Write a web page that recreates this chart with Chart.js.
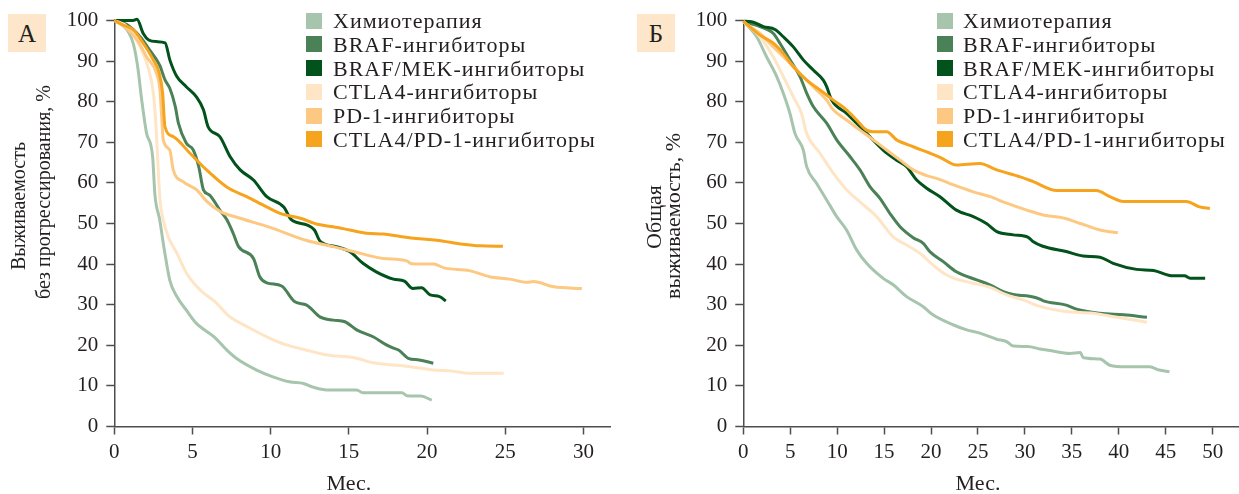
<!DOCTYPE html>
<html>
<head>
<meta charset="utf-8">
<script src="https://cdn.jsdelivr.net/npm/chart.js@4.4.1/dist/chart.umd.min.js"></script>
<style>
  body { margin: 0; background: #fff; width: 1239px; height: 494px; overflow: hidden; position: relative;
         font-family: "Liberation Serif", serif; color: #231f20; }
  .panel { position: absolute; top: 0; height: 494px; }
  .tag { position: absolute; top: 14px; width: 38px; height: 38px; background: #fde6c9;
         font-size: 25px; line-height: 39px; text-align: center; }
  .legend { position: absolute; top: 9px; font-size: 22px; letter-spacing: 1px; line-height: 23.8px; }
  .legend div { position: relative; padding-left: 27px; white-space: nowrap; }
  .legend span { position: absolute; left: 0; top: 3.5px; width: 16px; height: 16px; }
</style>
</head>
<body>
<div class="panel" style="left:0;width:620px"><canvas id="pfs" width="620" height="494"></canvas></div>
<div class="panel" style="left:620px;width:619px"><canvas id="os" width="619" height="494"></canvas></div>
<div class="tag" style="left:8px">А</div>
<div class="tag" style="left:637px">Б</div>
<div class="legend" id="legPfs" style="left:306px"></div>
<div class="legend" id="legOs" style="left:937px"></div>
<script>
// series names and colours
const seriesNames = ['Химиотерапия', 'BRAF-ингибиторы', 'BRAF/MEK-ингибиторы',
                     'CTLA4-ингибиторы', 'PD-1-ингибиторы', 'CTLA4/PD-1-ингибиторы'];
const seriesColors = ['#a7c5ad', '#4a8156', '#02521c', '#fee5c6', '#fdc982', '#f6a31d'];

const yTicks = [0, 10, 20, 30, 40, 50, 60, 70, 80, 90, 100];
const pfsXTicks = [0, 5, 10, 15, 20, 25, 30];
const osXTicks = [0, 5, 10, 15, 20, 25, 30, 35, 40, 45, 50];

// A: progression-free survival, months / %
const pfsChemoX = [0, 0.5, 1.2, 1.5, 1.75, 2.05, 2.45, 2.6, 2.9, 3.2, 3.55, 4.0, 4.6, 5.25, 6.4, 7.2, 7.8, 9.1, 10.1, 11.2, 12.1, 12.7, 13.6, 15.5, 15.9, 18.4, 18.7, 19.6, 20.3];
const pfsChemoY = [100, 99, 94.5, 88.5, 80.5, 72.5, 66.5, 57, 51, 43.5, 36, 32, 28.7, 25.4, 22, 18.8, 16.8, 13.9, 12.3, 11, 10.6, 9.7, 9, 9, 8.3, 8.3, 7.6, 7.5, 6.5];
const pfsBrafX = [0, 0.8, 1.65, 2.3, 2.9, 3.25, 3.55, 3.9, 4.1, 4.6, 5.05, 5.4, 5.7, 6.1, 6.75, 7.2, 7.6, 7.95, 8.9, 9.3, 9.75, 10.7, 11.55, 12.3, 13.15, 14.0, 14.75, 15.5, 16.55, 17.4, 17.85, 18.2, 18.8, 19.5, 20.4];
const pfsBrafY = [100, 99, 96, 92.5, 89, 85.3, 83.3, 78.8, 74.7, 69.8, 68.1, 64, 58.3, 57, 53.3, 50.9, 47.6, 44.3, 41.4, 36.9, 35.4, 34.6, 30.7, 29.9, 27, 26.2, 25.8, 23.8, 22.1, 20.1, 19.3, 18.8, 16.8, 16.4, 15.6];
const pfsBrafMekX = [0, 0.8, 1.2, 1.45, 1.85, 2.2, 2.7, 3.25, 3.55, 4.0, 4.6, 5.25, 5.7, 6.0, 6.75, 7.4, 8.05, 8.9, 9.75, 10.85, 11.3, 12.35, 12.8, 13.15, 14.2, 15.05, 15.9, 16.75, 17.85, 18.55, 19.1, 19.65, 20.2, 20.8, 21.2];
const pfsBrafMekY = [100, 100, 100, 100.3, 96.8, 95.2, 94.8, 94.5, 90.3, 86.2, 83.7, 81.2, 78, 73.8, 71.4, 66.5, 63.2, 60.7, 56.6, 54, 51, 49.6, 48.4, 45.7, 44.3, 43.1, 40.2, 38.1, 36.3, 35.8, 34.0, 34.2, 32.4, 32.0, 30.9];
const pfsCtla4X = [0, 0.8, 1.65, 2.15, 2.5, 2.67, 2.8, 2.92, 3.13, 3.45, 4.0, 4.63, 5.5, 6.45, 7.4, 8.5, 9.75, 11.0, 12.3, 13.6, 15.3, 16.55, 18.3, 19.5, 20.4, 21.5, 22.7, 24.9];
const pfsCtla4Y = [100, 98.5, 93.5, 88.6, 82, 73.8, 64, 55.8, 50.9, 46.7, 42.7, 37.7, 33.6, 30.7, 27, 24.6, 22.1, 20.1, 18.8, 17.6, 17, 15.7, 15, 14.4, 13.9, 13.7, 13.1, 13.1];
const pfsPd1X = [0, 0.8, 1.5, 2.07, 2.7, 2.92, 3.03, 3.13, 3.55, 3.77, 4.4, 5.27, 5.9, 6.76, 8.04, 10.0, 12.3, 14.0, 15.28, 17.2, 18.7, 19.0, 20.4, 21.15, 22.7, 24.0, 25.3, 26.4, 26.8, 28.1, 29.9];
const pfsPd1Y = [100, 98, 95, 91, 87, 82.9, 76.3, 70.6, 68.1, 63.2, 60.3, 58.3, 55.5, 53, 51.3, 49, 45.8, 44.3, 43.1, 41.4, 40.8, 40.1, 40.0, 39.0, 38.4, 36.9, 36.3, 35.5, 35.7, 34.4, 34.0];
const pfsComboX = [0, 0.5, 1.22, 1.85, 2.49, 2.88, 3.09, 3.24, 3.77, 4.84, 5.9, 7.19, 8.47, 9.74, 10.6, 11.9, 13.0, 14.0, 15.07, 16.14, 17.2, 18.3, 19.3, 20.6, 22.3, 23.4, 24.85];
const pfsComboY = [100, 99, 97.7, 94.4, 90.3, 87, 82.1, 73.8, 71.4, 67.3, 63.2, 59, 56.6, 54.1, 52.5, 51.3, 49.8, 49.2, 48.4, 47.6, 47.4, 46.8, 46.3, 45.9, 44.9, 44.5, 44.4];

// Б: overall survival, months / %
const osChemoX = [0, 0.3, 1.43, 2.49, 3.56, 4.26, 4.97, 5.5, 6.39, 6.75, 7.8, 8.88, 9.95, 11.0, 12.07, 13.14, 14.9, 15.97, 17.4, 19.17, 20.2, 22.4, 23.8, 25.2, 27.0, 28.05, 28.75, 30.3, 31.6, 32.7, 34.8, 35.9, 36.2, 38.0, 39.05, 40.8, 43.3, 44.3, 45.4];
const osChemoY = [99.8, 99.1, 96, 91, 86.2, 82.1, 77.1, 72.2, 68.1, 64, 59.9, 55.8, 51.7, 48.4, 43.5, 40.2, 36.5, 34.9, 32.0, 29.5, 27.5, 25.0, 23.8, 23.0, 21.5, 20.9, 19.8, 19.7, 19.1, 18.7, 18.0, 18.2, 17.0, 16.6, 15.1, 14.7, 14.7, 13.9, 13.5];
const osBrafX = [0, 0.36, 1.78, 3.2, 3.9, 4.97, 6.04, 6.75, 7.45, 8.88, 9.95, 11.36, 12.43, 13.49, 14.56, 15.7, 16.7, 18.1, 19.17, 19.9, 21.3, 22.7, 24.86, 26.27, 27.7, 28.75, 30.5, 31.6, 31.9, 34.4, 35.5, 38.0, 40.5, 43.0];
const osBrafY = [99.8, 99.5, 98.5, 96.8, 94.4, 90.3, 86.2, 82.1, 78.8, 74.7, 70.6, 66.5, 63.2, 59.1, 56.2, 52.2, 49.2, 46.5, 45.1, 43.0, 40.6, 38.1, 36.1, 34.9, 33.2, 32.5, 32.1, 31.4, 31.0, 29.9, 28.9, 27.9, 27.5, 26.9];
const osBrafMekX = [0, 0.9, 2.13, 3.38, 4.26, 5.33, 6.39, 7.45, 8.52, 8.88, 9.41, 11.0, 12.07, 13.14, 14.9, 16.34, 17.4, 18.47, 19.53, 20.95, 22.7, 24.5, 25.9, 27.0, 28.75, 30.35, 30.9, 31.9, 34.4, 36.2, 38.0, 39.4, 41.9, 43.7, 45.8, 47.0, 47.6, 49.2];
const osBrafMekY = [99.8, 99.7, 98.5, 97.8, 96, 93.5, 90.3, 87.8, 85.3, 83.7, 80.4, 77.1, 74.7, 72.2, 68.1, 65.6, 64, 60.7, 58.7, 56.6, 53.3, 51.7, 50.0, 48.0, 47.2, 46.6, 45.5, 44.4, 43.1, 42.0, 41.7, 40.2, 38.7, 38.4, 37.1, 37.1, 36.5, 36.5];
const osCtla4X = [0, 0.3, 1.78, 3.2, 4.26, 5.33, 6.2, 6.75, 8.17, 9.58, 11.0, 12.43, 14.2, 15.97, 17.4, 18.8, 20.2, 21.66, 22.7, 24.5, 26.27, 28.05, 29.8, 31.6, 34.4, 37.3, 39.8, 43.0];
const osCtla4Y = [99.8, 99.1, 96, 91, 86.2, 81.2, 77.1, 72.2, 67.3, 62.4, 58.3, 55.3, 51.7, 46.7, 44.7, 42.7, 39.8, 37.3, 36.3, 35.3, 34.3, 32.4, 31.2, 29.6, 28.3, 27.9, 26.9, 25.7];
const osPd1X = [0, 0.36, 1.78, 3.2, 4.62, 6.04, 7.45, 8.88, 9.58, 11.0, 12.43, 13.85, 15.27, 16.7, 18.1, 19.53, 20.6, 22.4, 24.5, 26.3, 28.05, 30.2, 31.95, 34.2, 35.9, 36.9, 38.0, 39.9];
const osPd1Y = [99.8, 99.1, 96.8, 93.5, 90.3, 87, 83.7, 80.4, 78, 75.5, 73, 70.6, 68.1, 65.6, 63.2, 61.8, 61.1, 59.5, 57.8, 56.6, 55.0, 53.3, 52.1, 51.3, 50.0, 49.2, 48.4, 47.7];
const osComboX = [0, 0.36, 1.78, 3.2, 4.26, 5.33, 6.75, 8.17, 9.58, 11.0, 12.07, 13.14, 13.85, 15.27, 16.34, 18.1, 19.9, 20.95, 22.7, 25.2, 27.0, 29.5, 30.9, 33.4, 37.6, 39.05, 40.5, 47.2, 48.6, 49.7];
const osComboY = [99.8, 99.1, 96.4, 94.4, 91.9, 88.6, 85.3, 82.9, 80.4, 78, 75.5, 73, 72.6, 72.6, 70.6, 68.9, 67.3, 66.3, 64.4, 64.8, 63.2, 61.5, 60.3, 58.1, 58.1, 56.6, 55.4, 55.4, 54.1, 53.7];

const pfsSeries = [[pfsChemoX, pfsChemoY], [pfsBrafX, pfsBrafY], [pfsBrafMekX, pfsBrafMekY],
                   [pfsCtla4X, pfsCtla4Y], [pfsPd1X, pfsPd1Y], [pfsComboX, pfsComboY]];
const osSeries = [[osChemoX, osChemoY], [osBrafX, osBrafY], [osBrafMekX, osBrafMekY],
                  [osCtla4X, osCtla4Y], [osPd1X, osPd1Y], [osComboX, osComboY]];

const FONT = '"Liberation Serif", "Times New Roman", serif';
const INK = '#231f20';
const AXIS = '#4d4d4d';

// axis titles drawn by hand so they sit where the original has them
const titlePlugin = {
  id: 'panelTitles',
  afterDraw(chart, args, opts) {
    const ctx = chart.ctx;
    ctx.save();
    ctx.fillStyle = INK;
    ctx.textAlign = 'center';
    ctx.textBaseline = 'alphabetic';
    ctx.font = opts.ySize + 'px ' + FONT;
    opts.yLines.forEach(l => {
      ctx.save();
      ctx.translate(l.x, l.y);
      ctx.rotate(-Math.PI / 2);
      ctx.fillText(l.text, 0, 0);
      ctx.restore();
    });
    ctx.font = '22px ' + FONT;
    ctx.fillText(opts.xText, chart.scales.x.getPixelForValue(opts.xMid), 490);
    ctx.restore();
  }
};

function makeChart(id, series, xTicks, xMax, yWidth, padRight, titles) {
  const datasets = series.map((s, i) => ({
    label: seriesNames[i],
    data: s[0].map((x, j) => ({ x: x, y: s[1][j] })),
    borderColor: seriesColors[i],
    borderWidth: 3,
    pointRadius: 0,
    fill: false,
    cubicInterpolationMode: 'monotone',
    clip: 6,
    order: series.length - i
  }));
  return new Chart(document.getElementById(id), {
    type: 'line',
    data: { datasets: datasets },
    plugins: [titlePlugin],
    options: {
      responsive: false,
      animation: false,
      events: [],
      layout: { autoPadding: false, padding: { top: 20.5, right: padRight, bottom: 0, left: 0 } },
      plugins: {
        legend: { display: false },
        tooltip: { enabled: false },
        panelTitles: titles
      },
      scales: {
        x: {
          type: 'linear',
          min: 0,
          max: xMax,
          afterBuildTicks: sc => { sc.ticks = xTicks.map(v => ({ value: v })); },
          afterFit: sc => { sc.height = 67.5; sc.paddingLeft = 0; sc.paddingRight = 0; },
          grid: { display: true, drawOnChartArea: false, drawTicks: true, tickLength: 8, tickColor: AXIS, tickWidth: 1.5 },
          border: { display: true, color: AXIS, width: 1.5 },
          ticks: { color: INK, font: { family: FONT, size: 21 }, padding: 5, maxRotation: 0, autoSkip: false }
        },
        y: {
          type: 'linear',
          min: 0,
          max: 100,
          afterBuildTicks: sc => { sc.ticks = yTicks.map(v => ({ value: v })); },
          afterFit: sc => { sc.width = yWidth; sc.paddingTop = 0; sc.paddingBottom = 0; },
          grid: { display: true, drawOnChartArea: false, drawTicks: true, tickLength: 8, tickColor: AXIS, tickWidth: 1.5 },
          border: { display: true, color: AXIS, width: 1.5 },
          ticks: { color: INK, font: { family: FONT, size: 21 }, padding: 8, autoSkip: false }
        }
      }
    }
  });
}

makeChart('pfs', pfsSeries, pfsXTicks, 31.7, 114.3, 10, {
  ySize: 20,
  yLines: [{ text: 'Выживаемость', x: 25, y: 206 }, { text: 'без прогрессирования, %', x: 50, y: 192 }],
  xText: 'Мес.', xMid: 15
});
makeChart('os', osSeries, osXTicks, 52.7, 123.3, 1, {
  ySize: 22,
  yLines: [{ text: 'Общая', x: 40.5, y: 217 }, { text: 'выживаемость, %', x: 60, y: 216 }],
  xText: 'Мес.', xMid: 25
});

function buildLegend(id) {
  const box = document.getElementById(id);
  seriesNames.forEach((name, i) => {
    const row = document.createElement('div');
    const sw = document.createElement('span');
    sw.style.background = seriesColors[i];
    row.appendChild(sw);
    row.appendChild(document.createTextNode(name));
    box.appendChild(row);
  });
}
buildLegend('legPfs');
buildLegend('legOs');
document.getElementById('legOs').querySelectorAll('div').forEach(d => d.style.paddingLeft = '26px');
</script>
</body>
</html>
